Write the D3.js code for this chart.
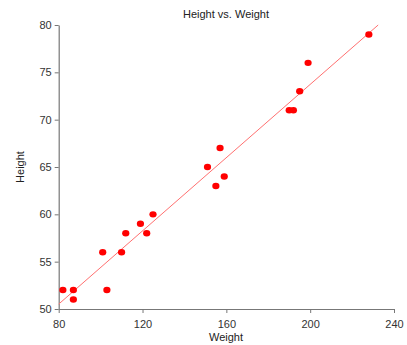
<!DOCTYPE html>
<html>
<head>
<meta charset="utf-8">
<script src="https://cdn.jsdelivr.net/npm/d3@7"></script>
<style>
  body { margin: 0; background: #fff; }
  svg text { font-family: "Liberation Sans", Arial, sans-serif; }
</style>
</head>
<body>
<div id="viz"></div>
<script>
// weight / height pairs
const weight = [82, 87, 87, 103, 101, 110, 112, 122, 119, 125, 151, 155, 157, 159, 190, 192, 195, 199, 228];
const height = [52, 52, 51, 52, 56, 56, 58, 58, 59, 60, 65, 63, 67, 64, 71, 71, 73, 76, 79];
const xTicks = [80, 120, 160, 200, 240];
const yTicks = [50, 55, 60, 65, 70, 75, 80];

const width = 407, h = 345;
const margin = {top: 25, right: 13, bottom: 36, left: 58.7};

const svg = d3.select('#viz').append('svg')
  .attr('width', width)
  .attr('height', h);

const x = d3.scaleLinear().domain([80, 240]).range([margin.left, width - margin.right]);
const y = d3.scaleLinear().domain([50, 80]).range([h - margin.bottom, margin.top]);

// axes
const xAxis = svg.append('g')
  .attr('transform', `translate(0,${y(50)})`)
  .call(d3.axisBottom(x).tickValues(xTicks).tickSize(4).tickSizeOuter(0));
const yAxis = svg.append('g')
  .attr('transform', `translate(${x(80)},0)`)
  .call(d3.axisLeft(y).tickValues(yTicks).tickSize(4).tickSizeOuter(0));

[xAxis, yAxis].forEach(g => {
  g.select('.domain').attr('stroke', '#777').attr('stroke-width', 1.2);
  g.selectAll('.tick line').attr('stroke', '#777');
  g.selectAll('.tick text').attr('fill', '#333').style('font-size', '11px');
});
xAxis.selectAll('.tick text').attr('dy', '1.1em');

// least squares fit
const n = weight.length;
const mx = d3.mean(weight), my = d3.mean(height);
let sxy = 0, sxx = 0;
for (let i = 0; i < n; i++) {
  sxy += (weight[i] - mx) * (height[i] - my);
  sxx += (weight[i] - mx) * (weight[i] - mx);
}
const slope = sxy / sxx, icpt = my - slope * mx;
// clip to plot box
let x0 = 80, x1 = 240;
if (icpt + slope * x0 < 50) x0 = (50 - icpt) / slope;
if (icpt + slope * x1 > 80) x1 = (80 - icpt) / slope;

svg.append('line')
  .attr('x1', x(x0)).attr('y1', y(icpt + slope * x0))
  .attr('x2', x(x1)).attr('y2', y(icpt + slope * x1))
  .attr('stroke', '#ff7070')
  .attr('stroke-width', 1);

svg.append('g')
  .selectAll('ellipse')
  .data(d3.range(n))
  .join('ellipse')
  .attr('cx', i => x(weight[i]))
  .attr('cy', i => y(height[i]))
  .attr('rx', 3.6)
  .attr('ry', 3.2)
  .attr('fill', '#ff0000');

// labels
svg.append('text')
  .attr('x', 226).attr('y', 18)
  .attr('text-anchor', 'middle')
  .style('font-size', '11px')
  .attr('fill', '#222')
  .text('Height vs. Weight');

svg.append('text')
  .attr('x', 226).attr('y', 341)
  .attr('text-anchor', 'middle')
  .style('font-size', '11px')
  .attr('fill', '#222')
  .text('Weight');

svg.append('text')
  .attr('transform', `translate(24,${y(65)}) rotate(-90)`)
  .attr('text-anchor', 'middle')
  .style('font-size', '11px')
  .attr('fill', '#222')
  .text('Height');
</script>
</body>
</html>
